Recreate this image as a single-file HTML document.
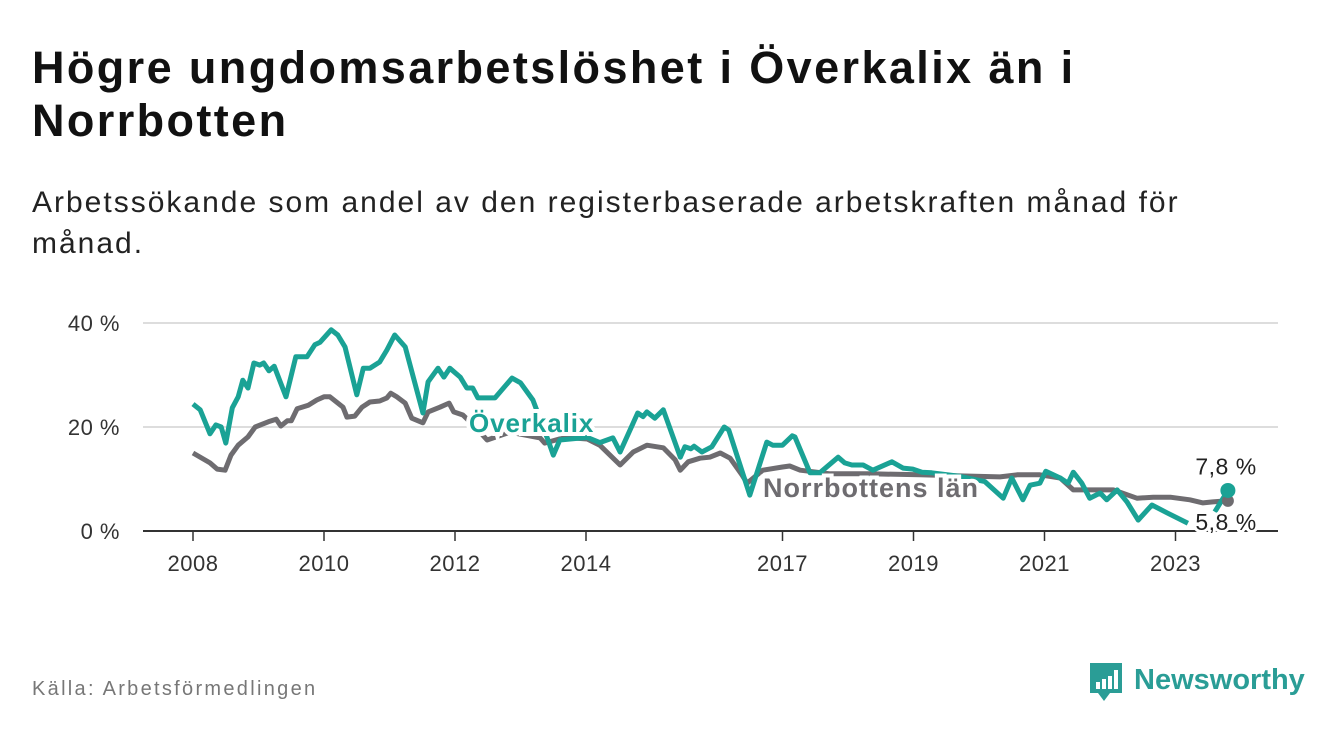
<!DOCTYPE html>
<html><head><meta charset="utf-8"><style>
body{margin:0;width:1340px;height:734px;background:#fff;font-family:"Liberation Sans",sans-serif;overflow:hidden;position:relative}
.t{position:absolute;left:32px;top:41px;font-size:45px;font-weight:bold;color:#111;line-height:53px;width:1290px;letter-spacing:2.4px}
.s{position:absolute;left:32px;top:182px;font-size:30px;color:#222;line-height:41px;width:1290px;letter-spacing:2px}
.src{position:absolute;left:32px;top:678px;font-size:20px;color:#777;letter-spacing:2.3px}
.logo{position:absolute;left:1088px;top:660px;width:230px;height:46px}
</style></head><body>
<div class="t">Högre ungdomsarbetslöshet i Överkalix än i<br>Norrbotten</div>
<div class="s">Arbetssökande som andel av den registerbaserade arbetskraften månad för<br>månad.</div>
<svg id="c" width="1340" height="734" style="position:absolute;left:0;top:0"></svg>
<div class="src">Källa: Arbetsförmedlingen</div>
<div class="logo">
<svg width="230" height="46"><path d="M2 3h32v30h-12l-6 8-6-8H2z" fill="#2a9d96"/><rect x="8" y="22" width="4" height="7" fill="#fff"/><rect x="14" y="19" width="4" height="10" fill="#fff"/><rect x="20" y="16" width="4" height="13" fill="#fff"/><rect x="26" y="10" width="4" height="19" fill="#fff"/>
<text x="46" y="29" font-size="29" font-weight="bold" fill="#2a9d96" font-family="Liberation Sans, sans-serif">Newsworthy</text></svg></div>
<script>
const yTicks=[0,20,40];
const xTickYears=[2008,2010,2012,2014,2017,2019,2021,2023];
const tealT=[0,.11,.26,.35,.43,.50,.60,.69,.76,.84,.93,1.02,1.08,1.16,1.24,1.42,1.57,1.74,1.86,1.94,2.11,2.21,2.32,2.50,2.60,2.70,2.85,2.96,3.08,3.24,3.51,3.59,3.74,3.83,3.92,4.08,4.18,4.27,4.35,4.61,4.87,5.0,5.19,5.42,5.50,5.60,6.02,6.21,6.41,6.52,6.79,6.87,6.93,7.05,7.18,7.44,7.51,7.60,7.65,7.77,7.92,8.11,8.18,8.50,8.76,8.85,9.0,9.15,9.19,9.42,9.57,9.85,9.95,10.06,10.23,10.38,10.67,10.84,10.99,11.13,11.28,11.71,12.09,12.37,12.50,12.67,12.78,12.93,13.02,13.24,13.36,13.44,13.57,13.69,13.85,13.95,14.11,14.26,14.43,14.64,14.87,15.19,15.40,15.60,15.80];
const tealV=[24.4,23.3,18.7,20.4,20,16.9,23.7,25.8,29,27.5,32.3,31.9,32.3,30.8,31.7,25.8,33.5,33.5,35.8,36.3,38.7,37.7,35.4,26.2,31.3,31.3,32.5,34.8,37.7,35.4,22.7,28.7,31.3,29.6,31.3,29.6,27.5,27.5,25.6,25.6,29.4,28.5,25.2,17.5,14.6,17.5,18,17,17.9,15.2,22.7,22,22.9,21.7,23.3,14.2,16.2,15.8,16.3,15.2,16.2,20,19.4,6.9,17.1,16.5,16.5,18.3,18.1,11.2,11.2,14.2,13.1,12.7,12.7,11.7,13.3,12.1,11.9,11.3,11.2,10.5,9.5,6.3,10.2,6,8.8,9.2,11.5,10.2,9.2,11.3,9.2,6.3,7.3,6,7.9,5.6,2.1,5,3.5,1.5,null,3.7,7.8];
const grayT=[0,.26,.37,.49,.58,.69,.84,.95,1.15,1.27,1.34,1.44,1.50,1.59,1.76,1.89,2.0,2.09,2.29,2.35,2.47,2.58,2.70,2.85,2.96,3.02,3.11,3.24,3.34,3.51,3.59,3.77,3.91,3.98,4.12,4.31,4.49,4.84,5.30,5.37,5.68,6.02,6.21,6.52,6.72,6.93,7.18,7.36,7.44,7.56,7.74,7.89,8.05,8.20,8.38,8.46,8.70,9.0,9.11,9.27,9.73,10.34,11.10,11.71,12.32,12.58,12.93,13.24,13.44,13.74,14.05,14.41,14.66,14.92,15.22,15.42,15.57,15.80];
const grayV=[15,13.1,11.9,11.7,14.6,16.5,18.1,20,21,21.5,20.2,21.2,21.2,23.5,24.2,25.2,25.8,25.8,23.8,21.9,22.1,23.8,24.8,25,25.6,26.5,25.8,24.6,21.7,20.8,22.9,23.8,24.6,22.9,22.3,20,17.5,19,17.9,16.9,18,17.7,16.5,12.7,15.2,16.5,16,13.7,11.7,13.3,14,14.2,15,14,10.8,9.2,11.7,12.3,12.5,11.7,11,11,10.8,10.6,10.4,10.8,10.8,10.2,7.9,7.9,7.9,6.3,6.5,6.5,6,5.4,5.6,5.8];
const svg=document.getElementById('c');const NS='http://www.w3.org/2000/svg';
const X=t=>193+65.5*t, Y=v=>531-5.2*v;
function mk(tag,at,txt){const e=document.createElementNS(NS,tag);for(const k in at)e.setAttribute(k,at[k]);if(txt!=null)e.textContent=txt;svg.appendChild(e);return e;}
yTicks.forEach(v=>{
 if(v>0){const g=mk('line',{x1:143,x2:1278,y1:Y(v),y2:Y(v),stroke:'#ddd','stroke-width':2});
 
 }
 const l=mk('text',{x:120,y:Y(v)+8,'text-anchor':'end','font-size':22,fill:'#333','letter-spacing':'0.5'},v+' %');
 
 
});
xTickYears.forEach(y=>{
 const x=X(y-2008);
 const tk=mk('line',{x1:x,x2:x,y1:531,y2:541,stroke:'#333','stroke-width':1.5});
 
 
 const l=mk('text',{x:x,y:571,'text-anchor':'middle','font-size':22,fill:'#333','letter-spacing':'0.5'},y);
 
 
});
function path(T,V){let d='',pen=false;T.forEach((t,i)=>{if(V[i]==null){pen=false;return;}d+=(pen?'L':'M')+X(t).toFixed(1)+','+Y(V[i]).toFixed(1);pen=true;});return d;}
const gp=mk('path',{d:path(grayT,grayV),fill:'none',stroke:'#6e6c70','stroke-width':5,'stroke-linejoin':'round'});


const tp=mk('path',{d:path(tealT,tealV),fill:'none',stroke:'#1aa295','stroke-width':5,'stroke-linejoin':'round'});


const ax=mk('line',{x1:143,x2:1278,y1:531,y2:531,stroke:'#333','stroke-width':2});


const lt=tealT.length-1, lg=grayT.length-1;
const d1=mk('circle',{cx:X(grayT[lg]),cy:Y(grayV[lg]),r:6,fill:'#6e6c70'});


const d2=mk('circle',{cx:X(tealT[lt]),cy:Y(tealV[lt]),r:7.5,fill:'#1aa295'});


const halo={stroke:'#fff','stroke-width':6,'paint-order':'stroke','stroke-linejoin':'round'};
const l1=mk('text',Object.assign({x:1226,y:Y(tealV[lt])-16,'text-anchor':'middle','font-size':23,fill:'#222','letter-spacing':'0.5'},halo),String(tealV[lt]).replace('.',',')+' %');


const l2=mk('text',Object.assign({x:1226,y:Y(grayV[lg])+29,'text-anchor':'middle','font-size':23,fill:'#222','letter-spacing':'0.5'},halo),String(grayV[lg]).replace('.',',')+' %');


const s1=mk('text',Object.assign({x:469,y:432,'font-size':26,'font-weight':'bold',fill:'#1aa295','letter-spacing':'0.9'},{stroke:'#fff','stroke-width':8,'paint-order':'stroke'}),'Överkalix');


const s2=mk('text',Object.assign({x:763,y:497,'font-size':27,'font-weight':'bold',fill:'#6e6c70','letter-spacing':'1'},{stroke:'#fff','stroke-width':8,'paint-order':'stroke'}),'Norrbottens län');


</script>
</body></html>
